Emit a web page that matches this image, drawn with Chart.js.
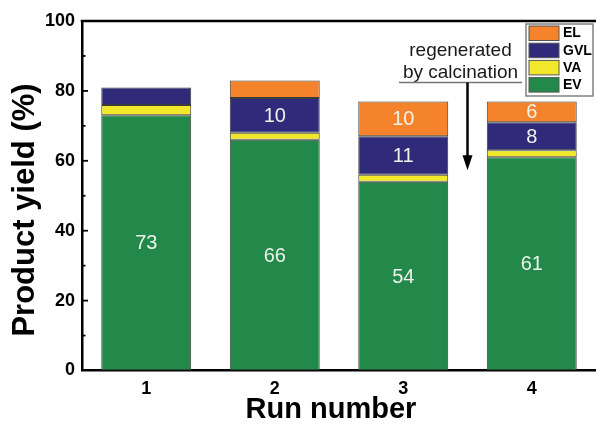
<!DOCTYPE html>
<html>
<head>
<meta charset="utf-8">
<style>
  html, body { margin: 0; padding: 0; background: #fff; }
  #wrap { width: 596px; height: 430px; }
</style>
<script src="https://cdn.jsdelivr.net/npm/chart.js@4.4.0/dist/chart.umd.min.js"></script>
</head>
<body>
<div id="wrap"><canvas id="c" width="596" height="430"></canvas></div>
<script>
// Product yield per catalytic run (stacked, %)
const runs = ['1', '2', '3', '4'];
const evYield  = [73, 66, 54, 61];
const vaYield  = [3, 2, 2, 2];
const gvlYield = [5, 10, 11, 8];
const elYield  = [0, 5, 10, 6];

const yTickValues  = [0, 20, 40, 60, 80, 100];
const yMinorValues = [10, 30, 50, 70, 90];

const noteLines = ['regenerated', 'by calcination'];

const FONT = "'Liberation Sans', Arial, Helvetica, sans-serif";

const series = [
  { label: 'EV',  data: evYield,  color: '#22894a' },
  { label: 'VA',  data: vaYield,  color: '#f1e82c' },
  { label: 'GVL', data: gvlYield, color: '#2f2a79' },
  { label: 'EL',  data: elYield,  color: '#f5832b' }
];

// Values printed inside the stacked segments
const segmentLabels = {
  id: 'segmentLabels',
  afterDatasetsDraw(chart) {
    const ctx = chart.ctx;
    ctx.save();
    ctx.font = '20px ' + FONT;
    ctx.fillStyle = '#eef3ea';
    ctx.textAlign = 'center';
    ctx.textBaseline = 'middle';
    chart.data.datasets.forEach((ds, di) => {
      const meta = chart.getDatasetMeta(di);
      meta.data.forEach((bar, i) => {
        const v = ds.data[i];
        if (v >= 6) {
          ctx.fillText(String(v), bar.x, (bar.y + bar.base) / 2 + 1);
        }
      });
    });
    ctx.restore();
  }
};

// Frame top line, inward ticks, axis titles, legend box and the regeneration note
const decorations = {
  id: 'decorations',
  afterDraw(chart) {
    const ctx = chart.ctx;
    const a = chart.chartArea;
    const xs = chart.scales.x;
    const ys = chart.scales.y;
    ctx.save();

    // top frame line
    ctx.strokeStyle = '#000';
    ctx.lineWidth = 2.5;
    ctx.beginPath();
    ctx.moveTo(a.left - 1.25, a.top);
    ctx.lineTo(a.right, a.top);
    ctx.stroke();

    // inward ticks on the y axis
    ctx.lineWidth = 1.8;
    yTickValues.forEach(v => {
      if (v === 0 || v === 100) return;
      const y = ys.getPixelForValue(v);
      ctx.beginPath();
      ctx.moveTo(a.left, y);
      ctx.lineTo(a.left + 6, y);
      ctx.stroke();
    });
    yMinorValues.forEach(v => {
      const y = ys.getPixelForValue(v);
      ctx.beginPath();
      ctx.moveTo(a.left, y);
      ctx.lineTo(a.left + 3.5, y);
      ctx.stroke();
    });

    // axis titles
    ctx.fillStyle = '#000';
    ctx.textAlign = 'center';
    ctx.textBaseline = 'middle';
    ctx.font = 'bold 29px ' + FONT;
    ctx.fillText('Run number', (a.left + a.right) / 2 - 8, 410);
    ctx.save();
    ctx.translate(25, 210);
    ctx.rotate(-Math.PI / 2);
    ctx.font = 'bold 31px ' + FONT;
    ctx.fillText('Product yield (%)', 0, 0);
    ctx.restore();

    // legend (top stack segment listed first)
    const bx = a.right - 70, by = a.top + 3, bw = 67, bh = 72;
    ctx.fillStyle = '#fff';
    ctx.fillRect(bx, by, bw, bh);
    ctx.strokeStyle = '#808080';
    ctx.lineWidth = 1.5;
    ctx.strokeRect(bx, by, bw, bh);
    const items = chart.data.datasets.slice().reverse();
    ctx.font = 'bold 14px ' + FONT;
    ctx.textAlign = 'left';
    items.forEach((ds, i) => {
      const sy = by + 2 + i * 17.2;
      ctx.fillStyle = ds.backgroundColor;
      ctx.fillRect(bx + 3, sy, 30, 14.5);
      ctx.strokeStyle = '#555';
      ctx.lineWidth = 1;
      ctx.strokeRect(bx + 3, sy, 30, 14.5);
      ctx.fillStyle = '#000';
      ctx.fillText(ds.label, bx + 37, sy + 7.5);
    });

    // regeneration note between run 3 and run 4
    const ax = xs.getPixelForValue(2.5);
    const tx = ax - 7;
    ctx.fillStyle = '#1a1a1a';
    ctx.font = '19px ' + FONT;
    ctx.textAlign = 'center';
    ctx.fillText(noteLines[0], tx, ys.getPixelForValue(91.6));
    ctx.fillText(noteLines[1], tx, ys.getPixelForValue(85.2));
    const w = ctx.measureText(noteLines[1]).width + 8;
    const uy = ys.getPixelForValue(82.4);
    ctx.strokeStyle = '#777';
    ctx.lineWidth = 1.5;
    ctx.beginPath();
    ctx.moveTo(tx - w / 2, uy);
    ctx.lineTo(tx + w / 2, uy);
    ctx.stroke();

    const tipY = ys.getPixelForValue(57.3);
    ctx.strokeStyle = '#000';
    ctx.lineWidth = 2.5;
    ctx.beginPath();
    ctx.moveTo(ax, uy);
    ctx.lineTo(ax, tipY - 12);
    ctx.stroke();
    ctx.fillStyle = '#000';
    ctx.beginPath();
    ctx.moveTo(ax, tipY);
    ctx.lineTo(ax - 5, tipY - 15);
    ctx.lineTo(ax + 5, tipY - 15);
    ctx.closePath();
    ctx.fill();

    ctx.restore();
  }
};

new Chart(document.getElementById('c'), {
  type: 'bar',
  data: {
    labels: runs,
    datasets: series.map(s => ({
      label: s.label,
      data: s.data,
      backgroundColor: s.color,
      borderColor: '#3c3c3c',
      borderWidth: c => (c.raw > 0 ? 1 : 0),
      borderSkipped: false,
      barPercentage: 0.7,
      categoryPercentage: 1.0
    }))
  },
  options: {
    responsive: false,
    animation: false,
    devicePixelRatio: 1,
    layout: { padding: { top: 21, right: 0, left: 0, bottom: 0 } },
    plugins: {
      legend: { display: false },
      tooltip: { enabled: false },
      title: { display: false }
    },
    scales: {
      x: {
        stacked: true,
        offset: true,
        grid: { display: false, drawTicks: false },
        border: { display: true, color: '#000', width: 2.5 },
        ticks: {
          color: '#000',
          padding: 8,
          font: { family: FONT, size: 18, weight: 'bold' }
        },
        afterFit(scale) { scale.height = 59.5; }
      },
      y: {
        stacked: true,
        min: 0,
        max: 100,
        afterBuildTicks(scale) { scale.ticks = yTickValues.map(v => ({ value: v })); },
        grid: { display: false, drawTicks: false },
        border: { display: true, color: '#000', width: 2.5 },
        ticks: {
          color: '#000',
          padding: 7,
          font: { family: FONT, size: 18, weight: 'bold' }
        },
        afterFit(scale) { scale.width = 82; }
      }
    }
  },
  plugins: [segmentLabels, decorations]
});
</script>
</body>
</html>
